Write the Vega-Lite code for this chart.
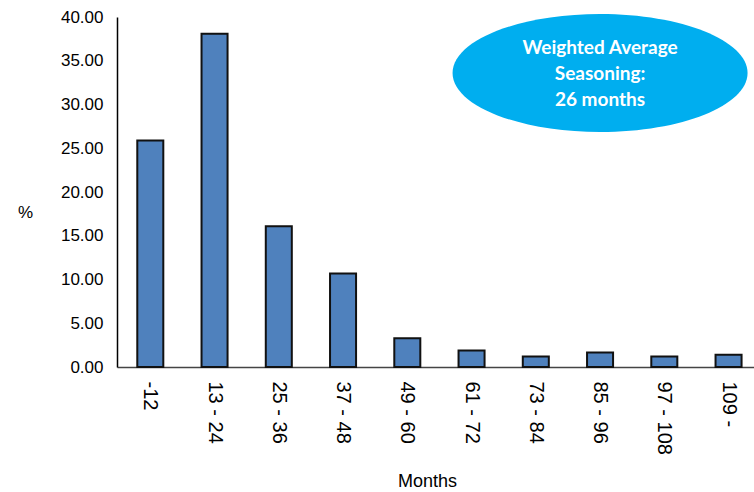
{
  "$schema": "https://vega.github.io/schema/vega-lite/v6.json",
  "width": 637,
  "height": 350,
  "autosize": {"type": "none"},
  "padding": {"left": 117, "top": 17, "right": 0, "bottom": 125},
  "background": "white",
  "config": {"view": {"stroke": null}},
  "datasets": {
    "bars": [
      {"bucket": "-12", "pct": 25.9},
      {"bucket": "13 - 24", "pct": 38.1},
      {"bucket": "25 - 36", "pct": 16.1},
      {"bucket": "37 - 48", "pct": 10.7},
      {"bucket": "49 - 60", "pct": 3.3},
      {"bucket": "61 - 72", "pct": 1.9},
      {"bucket": "73 - 84", "pct": 1.2},
      {"bucket": "85 - 96", "pct": 1.65},
      {"bucket": "97 - 108", "pct": 1.2},
      {"bucket": "109 -", "pct": 1.4}
    ],
    "note": [
      {"bucket": "85 - 96", "pos": 33.6, "label": ["Weighted Average", "Seasoning:", "26 months"]}
    ]
  },
  "layer": [
    {
      "data": {"name": "bars"},
      "mark": {"type": "bar", "color": "#4F81BD", "stroke": "#111111", "strokeWidth": 2},
      "encoding": {
        "x": {
          "field": "bucket", "type": "nominal", "sort": null,
          "scale": {"paddingInner": 0.595, "paddingOuter": 0.2546, "align": 0.62},
          "axis": {
            "title": "Months", "labelAngle": 90, "labelAlign": "left", "labelBaseline": "middle",
            "labelFont": "Liberation Sans", "labelFontSize": 20, "labelColor": "#000000",
            "labelPadding": 14, "ticks": false, "domainColor": "#444444", "domainWidth": 1.5,
            "titleFont": "Liberation Sans", "titleFontSize": 18, "titleFontWeight": "normal",
            "titleColor": "#000000", "titleX": 310, "titleY": 114, "titleBaseline": "middle",
            "titleAlign": "center"
          }
        },
        "y": {
          "field": "pct", "type": "quantitative",
          "scale": {"domain": [0, 40], "nice": false},
          "axis": {
            "title": "%", "values": [0, 5, 10, 15, 20, 25, 30, 35, 40], "format": ".2f",
            "grid": false, "ticks": false, "labelPadding": 14,
            "labelFont": "Liberation Sans", "labelFontSize": 17, "labelColor": "#000000",
            "domainColor": "#000000", "domainWidth": 1.5,
            "titleAngle": 0, "titleX": -92, "titleY": 195, "titleAlign": "center",
            "titleBaseline": "middle", "titleFont": "Liberation Sans", "titleFontSize": 17,
            "titleFontWeight": "normal", "titleColor": "#000000"
          }
        }
      }
    },
    {
      "data": {"name": "note"},
      "mark": {
        "type": "point", "filled": true, "opacity": 1, "color": "#00AEEF",
        "shape": "M-1,0A1,0.4 0 1,0 1,0A1,0.4 0 1,0 -1,0", "size": 87025
      },
      "encoding": {
        "x": {"field": "bucket", "type": "nominal", "sort": null},
        "y": {"field": "pos", "type": "quantitative"}
      }
    },
    {
      "data": {"name": "note"},
      "mark": {
        "type": "text", "color": "#FFFFFF", "font": "Lato", "fontWeight": "bold",
        "fontSize": 19, "lineHeight": 26, "align": "center", "baseline": "middle", "dy": -25
      },
      "encoding": {
        "x": {"field": "bucket", "type": "nominal", "sort": null},
        "y": {"field": "pos", "type": "quantitative"},
        "text": {"field": "label"}
      }
    }
  ]
}
